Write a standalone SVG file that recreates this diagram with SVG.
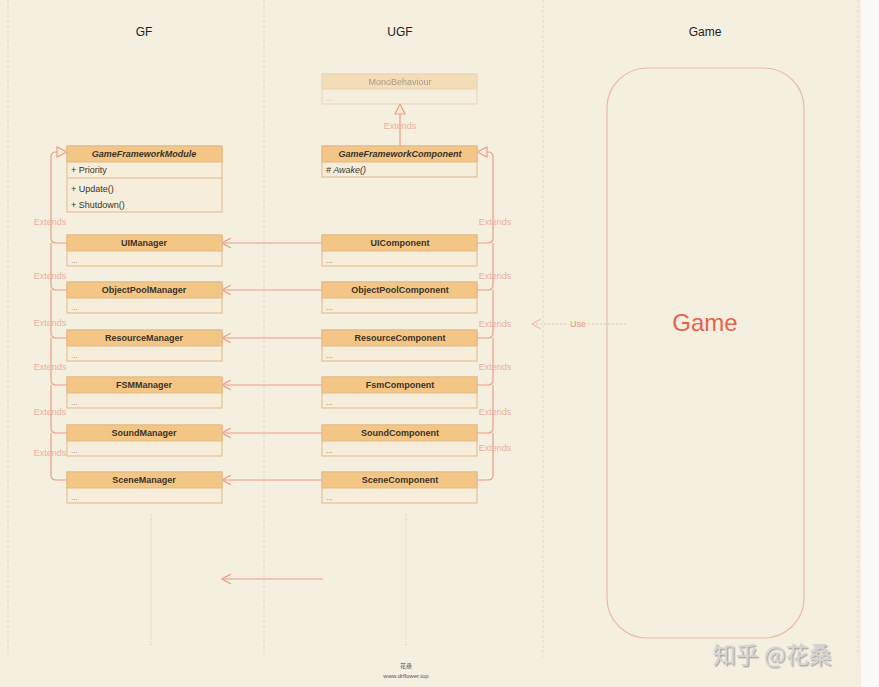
<svg xmlns="http://www.w3.org/2000/svg" width="879" height="687" viewBox="0 0 879 687">
<defs>
<style>
.lane{stroke:#e4d9c6;stroke-width:1;stroke-dasharray:3 2;fill:none}
.hd{fill:#f3c686;stroke:#e3b784;stroke-width:1}
.bd{fill:#f6eedb;stroke:#e3b784;stroke-width:1}
.t{font-family:"Liberation Sans",Arial,sans-serif;font-size:9px;fill:#3a3328}
.tb{font-family:"Liberation Sans",Arial,sans-serif;font-size:9px;font-weight:bold;fill:#3a3328;text-anchor:middle}
.ti{font-style:italic}
.lane-t{font-family:"Liberation Sans",Arial,sans-serif;font-size:12px;fill:#222;text-anchor:middle}
.con{stroke:#ef9c86;stroke-width:1.2;fill:none}
.ext{font-family:"Liberation Sans",Arial,sans-serif;font-size:9px;fill:#ebb09e;text-anchor:middle}
.dots{font-family:"Liberation Sans",Arial,sans-serif;font-size:8px;fill:#777}
</style>
<filter id="emboss" x="-10%" y="-30%" width="120%" height="160%">
<feDropShadow dx="1.5" dy="1.5" stdDeviation="0.6" flood-color="#7a7a7a" flood-opacity="0.6"/>
</filter>
<marker id="open" viewBox="0 0 10 10" refX="9" refY="5" markerWidth="10" markerHeight="10" orient="auto" markerUnits="userSpaceOnUse">
<path d="M0,0 L9,5 L0,10" fill="none" stroke="#ef9c86" stroke-width="1.2"/>
</marker>
<marker id="openL" viewBox="0 0 10 10" refX="9" refY="5" markerWidth="10" markerHeight="10" orient="auto" markerUnits="userSpaceOnUse">
<path d="M0,0 L9,5 L0,10" fill="none" stroke="#e8c2b5" stroke-width="1.2"/>
</marker>
<marker id="tri" viewBox="0 0 12 12" refX="11" refY="6" markerWidth="12" markerHeight="12" orient="auto" markerUnits="userSpaceOnUse">
<path d="M1,1 L11,6 L1,11 Z" fill="#f6eedb" stroke="#ef9c86" stroke-width="1.2"/>
</marker>
</defs>
<rect x="0" y="0" width="879" height="687" fill="#f9f9f6"/>
<rect x="0" y="0" width="861" height="687" fill="#f4efde"/>
<g id="lanes">
<line class="lane" x1="8" y1="0" x2="8" y2="657"/>
<line class="lane" x1="264" y1="0" x2="264" y2="657"/>
<line class="lane" x1="543" y1="0" x2="543" y2="657"/>
<line class="lane" x1="858" y1="0" x2="858" y2="657"/>
<text class="lane-t" x="144" y="36">GF</text>
<text class="lane-t" x="400" y="36">UGF</text>
<text class="lane-t" x="705" y="36">Game</text>
</g>
<g id="connectors">
<path class="con" d="M400,146 V104" marker-end="url(#tri)" stroke="#efb9a6"/>
<path class="con" d="M67,243 H56 Q51,243 51,238 V157 Q51,152 56,152 H67" marker-end="url(#tri)"/>
<path class="con" d="M67,290 H56 Q51,290 51,285 V243"/>
<path class="con" d="M67,338 H56 Q51,338 51,333 V290"/>
<path class="con" d="M67,385 H56 Q51,385 51,380 V338"/>
<path class="con" d="M67,433 H56 Q51,433 51,428 V385"/>
<path class="con" d="M67,480 H56 Q51,480 51,475 V433"/>
<path class="con" d="M477,243 H488 Q493,243 493,238 V157 Q493,152 488,152 H477" marker-end="url(#tri)"/>
<path class="con" d="M477,290 H488 Q493,290 493,285 V243"/>
<path class="con" d="M477,338 H488 Q493,338 493,333 V290"/>
<path class="con" d="M477,385 H488 Q493,385 493,380 V338"/>
<path class="con" d="M477,433 H488 Q493,433 493,428 V385"/>
<path class="con" d="M477,480 H488 Q493,480 493,475 V433"/>
<path class="con" d="M322,243 H222" marker-end="url(#open)"/>
<path class="con" d="M322,290 H222" marker-end="url(#open)"/>
<path class="con" d="M322,338 H222" marker-end="url(#open)"/>
<path class="con" d="M322,385 H222" marker-end="url(#open)"/>
<path class="con" d="M322,433 H222" marker-end="url(#open)"/>
<path class="con" d="M322,480 H222" marker-end="url(#open)"/>
<path class="con" d="M323,579 H222" marker-end="url(#open)"/>
<path d="M626,324 H532" fill="none" stroke="#e8c2b5" stroke-width="1" stroke-dasharray="2 2" marker-end="url(#openL)"/>
<rect x="568" y="318" width="20" height="12" fill="#f4efde"/>
<text class="ext" x="578" y="327" style="fill:#e69a85">Use</text>
<text class="ext" x="400" y="129">Extends</text>
<text class="ext" x="50" y="225">Extends</text>
<text class="ext" x="50" y="279">Extends</text>
<text class="ext" x="50" y="326">Extends</text>
<text class="ext" x="50" y="370">Extends</text>
<text class="ext" x="50" y="415">Extends</text>
<text class="ext" x="50" y="456">Extends</text>
<text class="ext" x="495" y="225">Extends</text>
<text class="ext" x="495" y="279">Extends</text>
<text class="ext" x="495" y="327">Extends</text>
<text class="ext" x="495" y="370">Extends</text>
<text class="ext" x="495" y="415">Extends</text>
<text class="ext" x="495" y="451">Extends</text>
<line x1="151" y1="514" x2="151" y2="645" stroke="#d9c7b4" stroke-width="1" stroke-dasharray="1 1.5"/>
<line x1="406" y1="514" x2="406" y2="645" stroke="#d9c7b4" stroke-width="1" stroke-dasharray="1 1.5"/>
</g>
<g id="MonoBehaviour" opacity="0.45">
<rect class="bd" x="322" y="74" width="155" height="30"/>
<rect class="hd" x="322" y="74" width="155" height="15"/>
<text class="tb" x="400" y="85" style="font-weight:normal">MonoBehaviour</text>
<text class="dots" x="326" y="101">...</text>
</g>
<g id="GameFrameworkModule">
<rect class="bd" x="67" y="146" width="155" height="66"/>
<rect class="hd" x="67" y="146" width="155" height="16"/>
<line x1="67" y1="178" x2="222" y2="178" stroke="#e3b784"/>
<text class="tb ti" x="144" y="157">GameFrameworkModule</text>
<text class="t" x="71" y="173">+ Priority</text>
<text class="t" x="71" y="192">+ Update()</text>
<text class="t" x="71" y="208">+ Shutdown()</text>
</g>
<g id="GameFrameworkComponent">
<rect class="bd" x="322" y="146" width="155" height="31"/>
<rect class="hd" x="322" y="146" width="155" height="16"/>
<text class="tb ti" x="400" y="157">GameFrameworkComponent</text>
<text class="t ti" x="326" y="173"># Awake()</text>
</g>
<g id="UIManager"><rect class="bd" x="67" y="235" width="155" height="31"/><rect class="hd" x="67" y="235" width="155" height="16"/><text class="tb" x="144" y="246">UIManager</text><text class="dots" x="71" y="263">...</text></g>
<g id="ObjectPoolManager"><rect class="bd" x="67" y="282" width="155" height="31"/><rect class="hd" x="67" y="282" width="155" height="16"/><text class="tb" x="144" y="293">ObjectPoolManager</text><text class="dots" x="71" y="310">...</text></g>
<g id="ResourceManager"><rect class="bd" x="67" y="330" width="155" height="31"/><rect class="hd" x="67" y="330" width="155" height="16"/><text class="tb" x="144" y="341">ResourceManager</text><text class="dots" x="71" y="358">...</text></g>
<g id="FSMManager"><rect class="bd" x="67" y="377" width="155" height="31"/><rect class="hd" x="67" y="377" width="155" height="16"/><text class="tb" x="144" y="388">FSMManager</text><text class="dots" x="71" y="405">...</text></g>
<g id="SoundManager"><rect class="bd" x="67" y="425" width="155" height="31"/><rect class="hd" x="67" y="425" width="155" height="16"/><text class="tb" x="144" y="436">SoundManager</text><text class="dots" x="71" y="453">...</text></g>
<g id="SceneManager"><rect class="bd" x="67" y="472" width="155" height="31"/><rect class="hd" x="67" y="472" width="155" height="16"/><text class="tb" x="144" y="483">SceneManager</text><text class="dots" x="71" y="500">...</text></g>
<g id="UIComponent"><rect class="bd" x="322" y="235" width="155" height="31"/><rect class="hd" x="322" y="235" width="155" height="16"/><text class="tb" x="400" y="246">UIComponent</text><text class="dots" x="326" y="263">...</text></g>
<g id="ObjectPoolComponent"><rect class="bd" x="322" y="282" width="155" height="31"/><rect class="hd" x="322" y="282" width="155" height="16"/><text class="tb" x="400" y="293">ObjectPoolComponent</text><text class="dots" x="326" y="310">...</text></g>
<g id="ResourceComponent"><rect class="bd" x="322" y="330" width="155" height="31"/><rect class="hd" x="322" y="330" width="155" height="16"/><text class="tb" x="400" y="341">ResourceComponent</text><text class="dots" x="326" y="358">...</text></g>
<g id="FsmComponent"><rect class="bd" x="322" y="377" width="155" height="31"/><rect class="hd" x="322" y="377" width="155" height="16"/><text class="tb" x="400" y="388">FsmComponent</text><text class="dots" x="326" y="405">...</text></g>
<g id="SoundComponent"><rect class="bd" x="322" y="425" width="155" height="31"/><rect class="hd" x="322" y="425" width="155" height="16"/><text class="tb" x="400" y="436">SoundComponent</text><text class="dots" x="326" y="453">...</text></g>
<g id="SceneComponent"><rect class="bd" x="322" y="472" width="155" height="31"/><rect class="hd" x="322" y="472" width="155" height="16"/><text class="tb" x="400" y="483">SceneComponent</text><text class="dots" x="326" y="500">...</text></g>
<g id="Game">
<rect x="607" y="68" width="197" height="570" rx="40" ry="40" fill="none" stroke="#ecbba6" stroke-width="1.2"/>
<text x="705" y="331" font-family="'Liberation Sans',Arial,sans-serif" font-size="24" fill="#e5634d" text-anchor="middle">Game</text>
</g>
<g id="footer">
<text x="406" y="668" font-family="'Noto Sans CJK SC',sans-serif" font-size="6" fill="#555" text-anchor="middle">花桑</text>
<text x="406" y="678" font-family="'Liberation Sans',Arial,sans-serif" font-size="6" fill="#555" text-anchor="middle">www.drflower.top</text>
<text x="772" y="663" font-family="'Noto Sans CJK SC',sans-serif" font-size="23" fill="#d4d4d4" text-anchor="middle" filter="url(#emboss)">知乎 @花桑</text>
</g>
</svg>
